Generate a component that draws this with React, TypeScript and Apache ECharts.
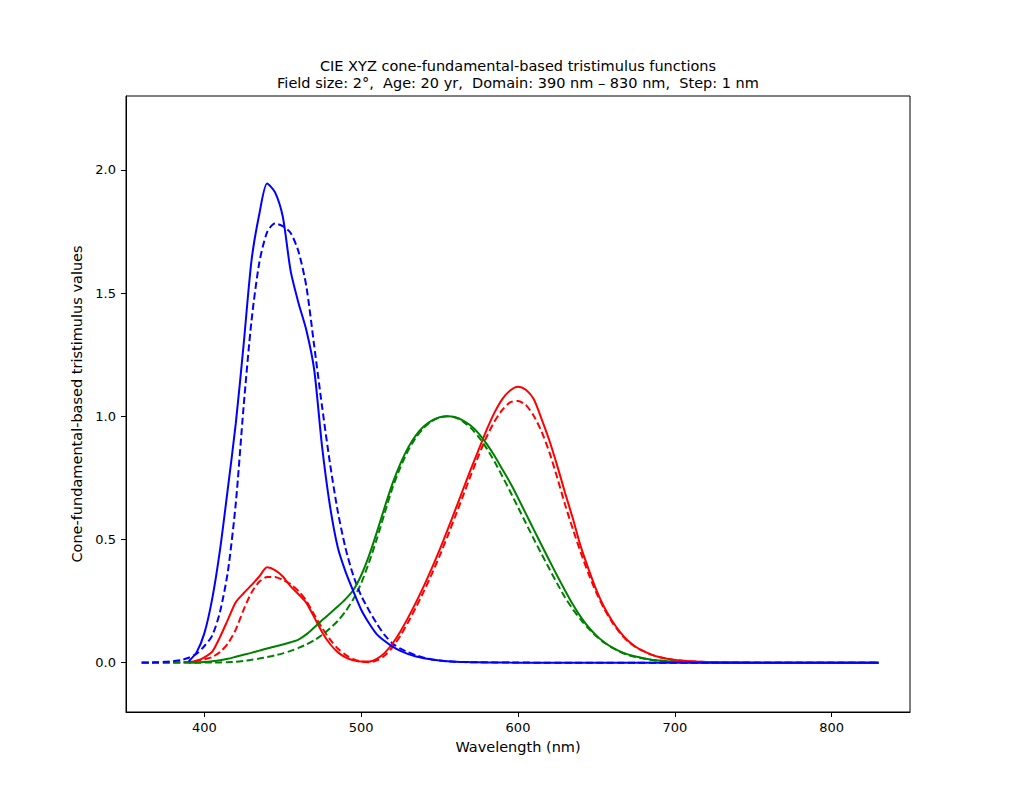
import React, { useEffect, useRef } from "react";
import * as echarts from "echarts";

// CIE 1931 2° standard observer (dashed)
const wl1931 = [
  360, 365, 370, 375, 380, 385, 390, 395, 400, 405, 410, 415, 420, 425, 430, 435, 440, 445, 450, 455,
  460, 465, 470, 475, 480, 485, 490, 495, 500, 505, 510, 515, 520, 525, 530, 535, 540, 545, 550, 555,
  560, 565, 570, 575, 580, 585, 590, 595, 600, 605, 610, 615, 620, 625, 630, 635, 640, 645, 650, 655,
  660, 665, 670, 675, 680, 685, 690, 695, 700, 710, 720, 730, 740, 750, 760, 770, 780, 790, 800, 810,
  820, 830,
];
const x1931 = [
  0.00013, 0.000232, 0.000415, 0.000742, 0.001368, 0.002236, 0.004243, 0.00765, 0.01431, 0.02319,
  0.04351, 0.07763, 0.13438, 0.21477, 0.2839, 0.3285, 0.34828, 0.34806, 0.3362, 0.3187,
  0.2908, 0.2511, 0.19536, 0.1421, 0.09564, 0.05795, 0.03201, 0.0147, 0.0049, 0.0024,
  0.0093, 0.0291, 0.06327, 0.1096, 0.1655, 0.22575, 0.2904, 0.3597, 0.43345, 0.51205,
  0.5945, 0.6784, 0.7621, 0.8425, 0.9163, 0.9786, 1.0263, 1.0567, 1.0622, 1.0456,
  1.0026, 0.9384, 0.85445, 0.7514, 0.6424, 0.5419, 0.4479, 0.3608, 0.2835, 0.2187,
  0.1649, 0.1212, 0.0874, 0.0636, 0.04677, 0.0329, 0.0227, 0.01584, 0.011359, 0.00579,
  0.002899, 0.00144, 0.00069, 0.000332, 0.000166, 0.000083, 0.000042, 0.000021, 0.00001, 0.000005,
  0.000003, 0.000001,
];
const y1931 = [
  0.000004, 0.000007, 0.000012, 0.000022, 0.000039, 0.000064, 0.00012, 0.000217, 0.000396, 0.00064,
  0.00121, 0.00218, 0.004, 0.0073, 0.0116, 0.01684, 0.023, 0.0298, 0.038, 0.048,
  0.06, 0.0739, 0.09098, 0.1126, 0.13902, 0.1693, 0.20802, 0.2586, 0.323, 0.4073,
  0.503, 0.6082, 0.71, 0.7932, 0.862, 0.91485, 0.954, 0.9803, 0.99495, 1.0,
  0.995, 0.9786, 0.952, 0.9154, 0.87, 0.8163, 0.757, 0.6949, 0.631, 0.5668,
  0.503, 0.4412, 0.381, 0.321, 0.265, 0.217, 0.175, 0.1382, 0.107, 0.0816,
  0.061, 0.04458, 0.032, 0.0232, 0.017, 0.01192, 0.00821, 0.005723, 0.004102, 0.002091,
  0.001047, 0.00052, 0.000249, 0.00012, 0.00006, 0.00003, 0.000015, 0.0000076, 0.0000037, 0.0000018,
  0.0000009, 0.0000004,
];
const z1931 = [
  0.000606, 0.001086, 0.001946, 0.003486, 0.00645, 0.01055, 0.02005, 0.03621, 0.06785, 0.1102,
  0.2074, 0.3713, 0.6456, 1.03905, 1.3856, 1.62296, 1.74706, 1.7826, 1.77211, 1.7441,
  1.6692, 1.5281, 1.28764, 1.0419, 0.81295, 0.6162, 0.46518, 0.3533, 0.272, 0.2123,
  0.1582, 0.1117, 0.07825, 0.05725, 0.04216, 0.02984, 0.0203, 0.0134, 0.00875, 0.00575,
  0.0039, 0.00275, 0.0021, 0.0018, 0.00165, 0.0014, 0.0011, 0.001, 0.0008, 0.0006,
  0.00034, 0.00024, 0.00019, 0.0001, 0.00005, 0.00003, 0.00002, 0.00001, 0, 0,
  0, 0, 0, 0, 0, 0, 0, 0, 0, 0,
  0, 0, 0, 0, 0, 0, 0, 0, 0, 0,
  0, 0,
];

// Cone-fundamental-based XYZ, 2°, age 20 (solid)
const wlCF = [
  390, 395, 400, 405, 410, 415, 420, 425, 430, 435, 440, 445, 450, 455, 460, 465, 470, 475, 480, 485,
  490, 495, 500, 505, 510, 515, 520, 525, 530, 535, 540, 545, 550, 555, 560, 565, 570, 575, 580, 585,
  590, 595, 600, 605, 610, 615, 620, 625, 630, 635, 640, 645, 650, 655, 660, 665, 670, 675, 680, 685,
  690, 695, 700, 710, 720, 730, 740, 750, 760, 770, 780, 790, 800, 810, 820, 830,
];
const xCF = [
  0.002, 0.008, 0.022, 0.045, 0.105, 0.175, 0.245, 0.282, 0.315, 0.35, 0.387, 0.376, 0.35, 0.31, 0.278, 0.243, 0.185, 0.125, 0.077, 0.043,
  0.022, 0.01, 0.005, 0.005, 0.016, 0.04, 0.078, 0.127, 0.184, 0.246, 0.312, 0.383, 0.458, 0.538, 0.62, 0.704, 0.787, 0.866, 0.945, 1.015,
  1.07, 1.105, 1.12, 1.108, 1.07, 0.99, 0.902, 0.8, 0.69, 0.585, 0.472, 0.38, 0.295, 0.225, 0.17, 0.125, 0.09, 0.065, 0.047, 0.033,
  0.023, 0.016, 0.011, 0.0055, 0.0027, 0.0013, 0.00065, 0.0003, 0.00015, 0.00007, 0.00004, 0.00002, 0.00001, 0.000005, 0.000003, 0.000001,
];
const yCF = [
  0.0003, 0.001, 0.003, 0.006, 0.01, 0.016, 0.024, 0.032, 0.04, 0.049, 0.058, 0.066, 0.074, 0.083, 0.094, 0.115, 0.143, 0.172, 0.2, 0.228,
  0.258, 0.295, 0.355, 0.435, 0.53, 0.632, 0.728, 0.808, 0.874, 0.924, 0.96, 0.983, 0.996, 1.0, 0.996, 0.983, 0.962, 0.93, 0.888, 0.84,
  0.785, 0.73, 0.669, 0.605, 0.541, 0.478, 0.415, 0.353, 0.293, 0.236, 0.186, 0.144, 0.11, 0.083, 0.062, 0.046, 0.034, 0.025, 0.018, 0.0125,
  0.0088, 0.0062, 0.0044, 0.0022, 0.0011, 0.00055, 0.00027, 0.00013, 0.00006, 0.00003, 0.000015, 0.00001, 0.000005, 0.000003, 0.000001, 0.000001,
];
const zCF = [
  0.006, 0.042, 0.12, 0.26, 0.46, 0.71, 0.97, 1.29, 1.63, 1.82, 1.945, 1.91, 1.81, 1.59, 1.46, 1.35, 1.19, 0.88, 0.64, 0.47,
  0.37, 0.29, 0.215, 0.16, 0.115, 0.088, 0.065, 0.048, 0.035, 0.025, 0.018, 0.013, 0.009, 0.006, 0.004, 0.003, 0.002, 0.0015, 0.001, 0.0008,
  0.0006, 0.0004, 0.0003, 0.0002, 0.0001, 0, 0, 0, 0, 0, 0, 0, 0, 0, 0, 0, 0, 0, 0, 0,
  0, 0, 0, 0, 0, 0, 0, 0, 0, 0, 0, 0, 0, 0, 0, 0,
];

const xTicks = [400, 500, 600, 700, 800];
const yTicks = [0, 0.5, 1.0, 1.5, 2.0];

const titleLine1 = "CIE XYZ cone-fundamental-based tristimulus functions";
const titleLine2 = "Field size: 2°,  Age: 20 yr,  Domain: 390 nm – 830 nm,  Step: 1 nm";
const xName = "Wavelength (nm)";
const yName = "Cone-fundamental-based tristimulus values";

const FONT = "DejaVu Sans";

function pairs(xs: number[], ys: number[]) {
  return xs.map((x, i) => [x, ys[i]]);
}

export default function App() {
  const ref = useRef<HTMLDivElement>(null);
  useEffect(() => {
    if (!ref.current) return;
    const chart = echarts.init(ref.current, undefined, { renderer: "svg" });
    const mk = (name: string, xs: number[], ys: number[], color: string, dashed: boolean) => ({
      name,
      type: "line",
      data: pairs(xs, ys),
      showSymbol: false,
      symbol: "none",
      clip: true,
      smooth: 0.25,
      lineStyle: { color, width: 2, type: dashed ? [7, 3.5] : "solid" },
      itemStyle: { color },
      emphasis: { disabled: true },
    });
    chart.setOption({
      animation: false,
      backgroundColor: "#ffffff",
      grid: {
        left: 126,
        right: 101,
        top: 96,
        bottom: 88,
        show: true,
        borderColor: "#000000",
        borderWidth: 1,
        backgroundColor: "transparent",
      },
      xAxis: {
        type: "value",
        min: 350,
        max: 850,
        name: xName,
        nameLocation: "middle",
        nameGap: 27,
        nameTextStyle: { color: "#000", fontSize: 14.5, fontFamily: FONT },
        axisLine: { show: true, onZero: false, lineStyle: { color: "#000", width: 1 } },
        axisTick: { show: true, inside: false, length: 5, customValues: xTicks, lineStyle: { color: "#000" } },
        axisLabel: { customValues: xTicks, color: "#000", fontSize: 13, fontFamily: FONT, margin: 9 },
        splitLine: { show: false },
      },
      yAxis: {
        type: "value",
        min: -0.2,
        max: 2.3,
        name: yName,
        nameLocation: "middle",
        nameGap: 33,
        nameRotate: 90,
        nameTextStyle: { color: "#000", fontSize: 14.5, fontFamily: FONT },
        axisLine: { show: true, onZero: false, lineStyle: { color: "#000", width: 1 } },
        axisTick: { show: true, inside: false, length: 5, customValues: yTicks, lineStyle: { color: "#000" } },
        axisLabel: {
          customValues: yTicks,
          color: "#000",
          fontSize: 13,
          fontFamily: FONT,
          margin: 10,
          formatter: (v: number) => v.toFixed(1),
        },
        splitLine: { show: false },
      },
      graphic: [
        {
          type: "text",
          x: 518,
          y: 66,
          style: { text: titleLine1, fill: "#000", fontSize: 14.5, fontFamily: FONT, align: "center", verticalAlign: "middle" },
        },
        {
          type: "text",
          x: 518,
          y: 83,
          style: { text: titleLine2, fill: "#000", fontSize: 14.5, fontFamily: FONT, align: "center", verticalAlign: "middle" },
        },
      ],
      series: [
        mk("x̄ (CIE 1931)", wl1931, x1931, "#ff0000", true),
        mk("ȳ (CIE 1931)", wl1931, y1931, "#008000", true),
        mk("z̄ (CIE 1931)", wl1931, z1931, "#0000ff", true),
        mk("x̄ (cone-fundamental)", wlCF, xCF, "#ff0000", false),
        mk("ȳ (cone-fundamental)", wlCF, yCF, "#008000", false),
        mk("z̄ (cone-fundamental)", wlCF, zCF, "#0000ff", false),
      ],
    });
    return () => chart.dispose();
  }, []);
  return (
    <div
      ref={ref}
      style={{ position: "fixed", left: 0, top: 0, width: 1011, height: 800, background: "#fff" }}
    />
  );
}
